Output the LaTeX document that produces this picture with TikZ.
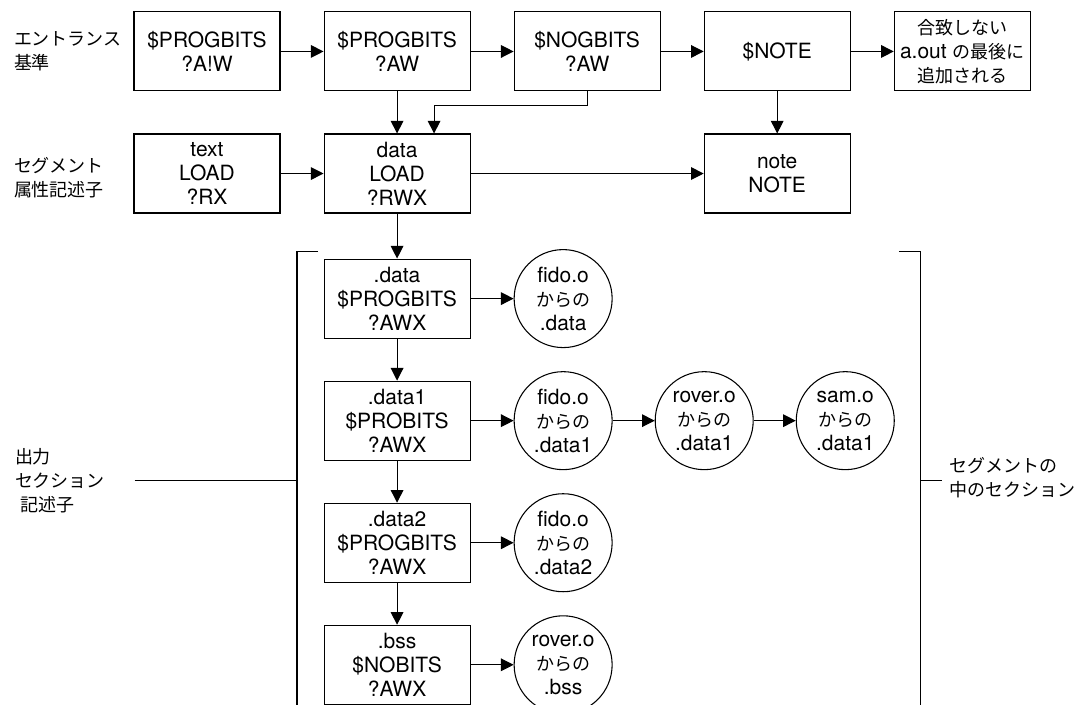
\documentclass[tikz,border=0pt]{standalone}
\usepackage{fontspec}
\setmainfont{TeX Gyre Heros}
\newfontfamily\jp{Noto Sans CJK JP}[Scale=0.857]
\usetikzlibrary{shapes,arrows.meta,positioning,calc}

\begin{document}
\begin{tikzpicture}[->,>={Triangle[length=9.5pt,width=9.5pt]},line width=.8pt,node distance=31.5pt and 32.25pt,font=\fontsize{15.75pt}{18pt}\selectfont,main node/.style={rectangle,draw,align=center,inner sep=0pt,minimum width=109.5pt,minimum height=59.25pt},obj node/.style={circle,draw,align=center,inner sep=0pt,minimum size=73.5pt},side node/.style={align=left,inner sep=0pt,font=\fontsize{15.75pt}{18pt}\selectfont\jp}]
  \useasboundingbox (0,0) rectangle (808.5pt,-528.75pt);
  % entrance criteria
  \node[main node] (pb1) at (155.25pt,-38.6pt) {\$PROGBITS\\?A!W};
  \node[main node] (pb2) [right=of pb1] {\$PROGBITS\\?AW};
  \node[main node] (nob) [right=of pb2] {\$NOGBITS\\?AW};
  \node[main node] (nte) [right=of nob] {\$NOTE};
  \node[main node,minimum width=102pt] (rest) [right=of nte] {{\jp 合致しない}\\a.out {\jp の最後に}\\{\jp 追加される}};
  % segment descriptors
  \node[main node] (text) [below=of pb1] {text\\LOAD\\?RX};
  \node[main node] (data) [below=of pb2] {data\\LOAD\\?RWX};
  \node[main node] (note) [below=of nte] {note\\NOTE};
  % output sections
  \node[main node] (sdata) [below=33.75pt of data] {.data\\\$PROGBITS\\?AWX};
  \node[main node] (sdata1) [below=of sdata] {.data1\\\$PROBITS\\?AWX};
  \node[main node] (sdata2) [below=of sdata1] {.data2\\\$PROGBITS\\?AWX};
  \node[main node] (sbss) [below=of sdata2] {.bss\\\$NOBITS\\?AWX};
  % input sections
  \node[obj node] (fido) [right=of sdata] {fido.o\\{\jp からの}\\.data};
  \node[obj node] (fido1) [right=of sdata1] {fido.o\\{\jp からの}\\.data1};
  \node[obj node] (rover1) [right=31.5pt of fido1] {rover.o\\{\jp からの}\\.data1};
  \node[obj node] (sam1) [right=31.5pt of rover1] {sam.o\\{\jp からの}\\.data1};
  \node[obj node] (fido2) [right=of sdata2] {fido.o\\{\jp からの}\\.data2};
  \node[obj node] (roverb) [right=of sbss] {rover.o\\{\jp からの}\\.bss};
  % labels on the left
  \node[side node,anchor=west] (entlab) at ([xshift=-90pt]pb1.west) {エントランス\\基準};
  \node[side node,anchor=west] (seglab) at ([xshift=-90pt,yshift=-3pt]text.west) {セグメント\\属性記述子};

  \path (pb1) edge (pb2)
    (pb2) edge (nob)
    (nob) edge (nte)
    (nte) edge (rest)
    (text) edge (data)
    (data) edge (note)
    (pb2) edge (data)
    (nte) edge (note)
    (data) edge (sdata)
    (sdata) edge (sdata1)
    (sdata1) edge (sdata2)
    (sdata2) edge (sbss)
    (sdata) edge (fido)
    (sdata1) edge (fido1)
    (fido1) edge (rover1)
    (rover1) edge (sam1)
    (sdata2) edge (fido2)
    (sbss) edge (roverb);
  \draw (nob.south) -- ++(0,-10.5pt) -| ([xshift=27.75pt]data.north);

  % brackets
  \coordinate (ltop) at ([xshift=-19.9pt,yshift=5.25pt]sdata.north west);
  \coordinate (lbot) at ([xshift=-19.9pt,yshift=-3.75pt]sbss.south west);
  \coordinate (lmid) at ($(ltop)!.5!(lbot)$);
  \path (ltop -| sam1.east) ++(19.5pt,0) coordinate (rtop);
  \path (lbot -| sam1.east) ++(19.5pt,0) coordinate (rbot);
  \coordinate (rmid) at ($(rtop)!.5!(rbot)$);
  \draw[-] ([xshift=15.75pt]ltop) -- (ltop) -- (lbot) -- ([xshift=15.75pt]lbot);
  \draw[-] ([xshift=-16.5pt]rtop) -- (rtop) -- (rbot) -- ([xshift=-16.5pt]rbot);
  \node[side node,anchor=west] (outlab) at ([xshift=-211.9pt]lmid) {出力\\セクション\\\hspace{4pt}記述子};
  \node[side node,anchor=west] (seclab) at ([xshift=21pt,yshift=2pt]rmid) {セグメントの\\中のセクション};
  \draw[-,shorten <=21.75pt] (outlab.east) -- (lmid);
  \draw[-,shorten >=5.25pt] (rmid) -- (seclab.west |- rmid);
\end{tikzpicture}
\end{document}
